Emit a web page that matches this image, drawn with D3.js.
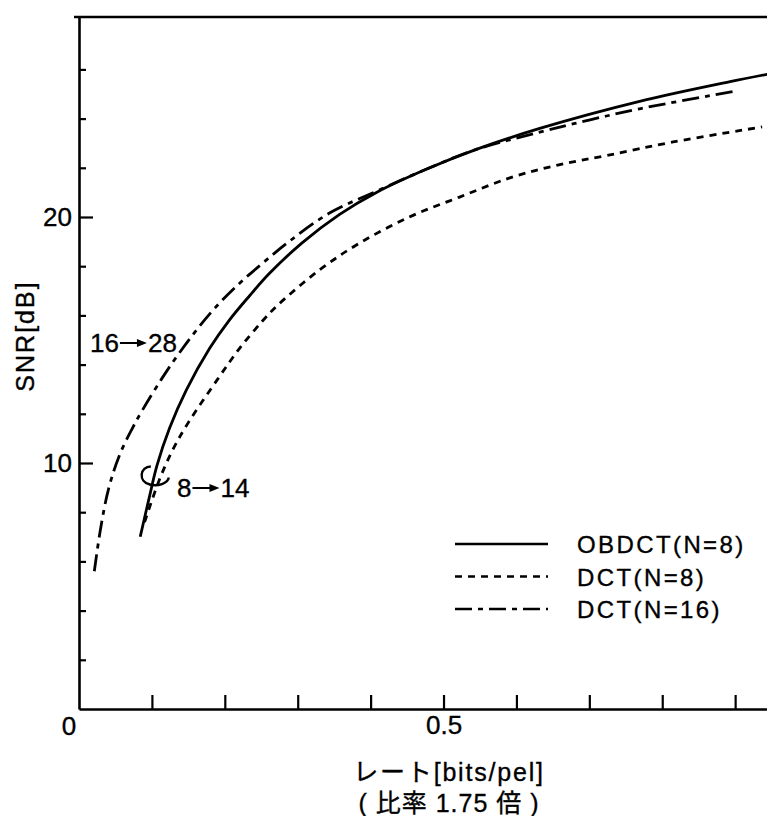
<!DOCTYPE html>
<html>
<head>
<meta charset="utf-8">
<script src="https://cdn.jsdelivr.net/npm/d3@7"></script>
<style>
  body { margin: 0; background: white; }
  text { font-family: "Liberation Sans", Arial, Helvetica, sans-serif; fill: black; stroke: black; stroke-width: 0.35px; }
  .jp { font-family: "Liberation Sans", "Noto Sans CJK JP", sans-serif; }
</style>
</head>
<body>
<svg id="chart" width="767" height="816"></svg>
<script>
// OBDCT(N=8), solid
var obdctRate = [0.084, 0.096, 0.107, 0.124, 0.147, 0.179, 0.206, 0.234, 0.261, 0.306, 0.357, 0.408, 0.477, 0.545, 0.632, 0.769, 0.893, 0.944]
var obdctSnr  = [7.0, 8.55, 9.9, 11.4, 12.95, 14.65, 15.8, 16.8, 17.7, 18.95, 20.1, 21.0, 21.95, 22.75, 23.6, 24.7, 25.5, 25.8]

// DCT(N=8), dotted
var dct8Rate = [0.090, 0.110, 0.128, 0.148, 0.190, 0.220, 0.251, 0.272, 0.330, 0.385, 0.453, 0.522, 0.591, 0.655, 0.724, 0.815, 0.937]
var dct8Snr  = [7.6, 9.3, 10.5, 11.55, 13.4, 14.65, 15.75, 16.4, 17.85, 18.94, 20.0, 20.81, 21.59, 22.1, 22.5, 23.05, 23.66]

// DCT(N=16), dash-dot
var dct16Rate = [0.021, 0.030, 0.041, 0.056, 0.073, 0.087, 0.114, 0.137, 0.161, 0.188, 0.220, 0.251, 0.288, 0.343, 0.408, 0.477, 0.545, 0.632, 0.701, 0.769, 0.897]
var dct16Snr  = [5.6, 7.4, 9.0, 10.35, 11.4, 12.15, 13.45, 14.45, 15.4, 16.35, 17.3, 18.1, 19.0, 20.15, 21.05, 21.95, 22.75, 23.45, 23.95, 24.4, 25.1]

var seriesNames = ['OBDCT(N=8)', 'DCT(N=8)', 'DCT(N=16)']
var xTicks = [0.1, 0.2, 0.3, 0.4, 0.5, 0.6, 0.7, 0.8, 0.9]
var yTicks = [2, 4, 6, 8, 10, 12, 14, 16, 18, 20, 22, 24, 26]
var xLabels = [0.5]
var yLabels = [10, 20]

var svg = d3.select('#chart')
var x = d3.scaleLinear().domain([0, 0.9437]).range([79, 767])
var y = d3.scaleLinear().domain([0, 28.13]).range([709, 17])

var axisW = 2.6

// top frame line
svg.append('line')
  .attr('x1', 74).attr('x2', 767)
  .attr('y1', y(28.13)).attr('y2', y(28.13))
  .style('stroke', 'black')
  .style('stroke-width', axisW)

var gx = svg.append('g')
  .attr('transform', 'translate(0,' + y(0) + ')')
  .call(d3.axisBottom(x)
    .tickValues(xTicks)
    .tickSizeInner(-14)
    .tickSizeOuter(0)
    .tickPadding(7)
    .tickFormat(function(d){
      return xLabels.indexOf(d) >= 0 ? d3.format('.1f')(d) : ''
    }))

var gy = svg.append('g')
  .attr('transform', 'translate(' + x(0) + ',0)')
  .call(d3.axisLeft(y)
    .tickValues(yTicks)
    .tickSizeInner(-7)
    .tickSizeOuter(0)
    .tickPadding(7)
    .tickFormat(function(d){
      return yLabels.indexOf(d) >= 0 ? d : ''
    }))

gy.selectAll('.tick line')
  .attr('x2', function(d){
    return yLabels.indexOf(d) >= 0 ? 14 : 7
  })

svg.selectAll('.domain')
  .style('stroke', 'black')
  .style('stroke-width', axisW)
svg.selectAll('.tick line')
  .style('stroke', 'black')
  .style('stroke-width', 2.2)
svg.selectAll('.tick text')
  .style('font-size', '26px')
  .style('font-family', '"Liberation Sans", Arial, sans-serif')
  .style('fill', 'black')

// origin label
svg.append('text')
  .attr('x', x(0) - 10)
  .attr('y', 735)
  .attr('text-anchor', 'middle')
  .style('font-size', '26px')
  .text('0')

// axis titles
svg.append('text')
  .attr('class', 'jp')
  .attr('x', 449)
  .attr('y', 781)
  .attr('text-anchor', 'middle')
  .style('font-size', '25px')
  .style('letter-spacing', '1.8px')
  .text('レート[bits/pel]')

svg.append('text')
  .attr('class', 'jp')
  .attr('x', 449)
  .attr('y', 812)
  .attr('text-anchor', 'middle')
  .style('font-size', '25px')
  .style('letter-spacing', '1px')
  .text('( 比率 1.75 倍 )')

svg.append('text')
  .attr('transform', 'translate(34,336) rotate(-90)')
  .attr('text-anchor', 'middle')
  .style('font-size', '25px')
  .style('letter-spacing', '2px')
  .text('SNR[dB]')

// curves
var series = [
  { name: seriesNames[0], rate: obdctRate, snr: obdctSnr, dash: null },
  { name: seriesNames[1], rate: dct8Rate, snr: dct8Snr, dash: '7,6' },
  { name: seriesNames[2], rate: dct16Rate, snr: dct16Snr, dash: '17,6,5,6' }
]

var line = d3.line()
  .x(function(d){ return x(d[0]) })
  .y(function(d){ return y(d[1]) })
  .curve(d3.curveCatmullRom.alpha(0.5))

svg.selectAll('.curve')
  .data(series)
  .enter()
  .append('path')
  .attr('class', 'curve')
  .attr('d', function(d){
    return line(d3.zip(d.rate, d.snr))
  })
  .style('fill', 'none')
  .style('stroke', 'black')
  .style('stroke-width', 2.8)
  .style('stroke-dasharray', function(d){ return d.dash })

// legend
var legend = svg.selectAll('.legend')
  .data(series)
  .enter()
  .append('g')
  .attr('class', 'legend')
  .attr('transform', function(d, i){
    return 'translate(455,' + (544 + i * 32.5) + ')'
  })

legend.append('line')
  .attr('x1', 0).attr('x2', 93)
  .attr('y1', 0).attr('y2', 0)
  .style('stroke', 'black')
  .style('stroke-width', 2.4)
  .style('stroke-dasharray', function(d){ return d.dash })

legend.append('text')
  .attr('x', 122)
  .attr('y', 9)
  .style('font-size', '24px')
  .style('letter-spacing', '2.4px')
  .text(function(d){ return d.name })

// annotations "16->28" and "8->14", arrow drawn as line + filled head
function arrowLabel(x0, yBase, from, to){
  var g = svg.append('g')
  var t1 = g.append('text')
    .attr('x', x0).attr('y', yBase)
    .style('font-size', '26px')
    .text(from)
  var w1 = t1.node().getComputedTextLength()
  var ax0 = x0 + w1 + 1, ax1 = ax0 + 27, ay = yBase - 9
  g.append('line')
    .attr('x1', ax0).attr('x2', ax1 - 8)
    .attr('y1', ay).attr('y2', ay)
    .style('stroke', 'black')
    .style('stroke-width', 2)
  g.append('path')
    .attr('d', 'M' + (ax1 - 10) + ',' + (ay - 4) + ' L' + ax1 + ',' + ay + ' L' + (ax1 - 10) + ',' + (ay + 4) + ' Z')
    .style('fill', 'black')
  g.append('text')
    .attr('x', ax1 + 1).attr('y', yBase)
    .style('font-size', '26px')
    .text(to)
}
arrowLabel(90, 352, '16', '28')
arrowLabel(177, 497, '8', '14')

// curl marking the N=8 curves
var cx = x(0.104), cy = y(9.45)
svg.append('path')
  .attr('d', 'M' + (cx - 4) + ',' + (cy - 10) +
    ' C' + (cx - 15) + ',' + (cy - 10) + ' ' + (cx - 17) + ',' + (cy + 5) + ' ' + (cx - 5) + ',' + (cy + 8) +
    ' C' + (cx + 3) + ',' + (cy + 10) + ' ' + (cx + 13) + ',' + (cy + 7) + ' ' + (cx + 14) + ',' + (cy + 1))
  .style('fill', 'none')
  .style('stroke', 'black')
  .style('stroke-width', 2.4)
</script>
</body>
</html>
